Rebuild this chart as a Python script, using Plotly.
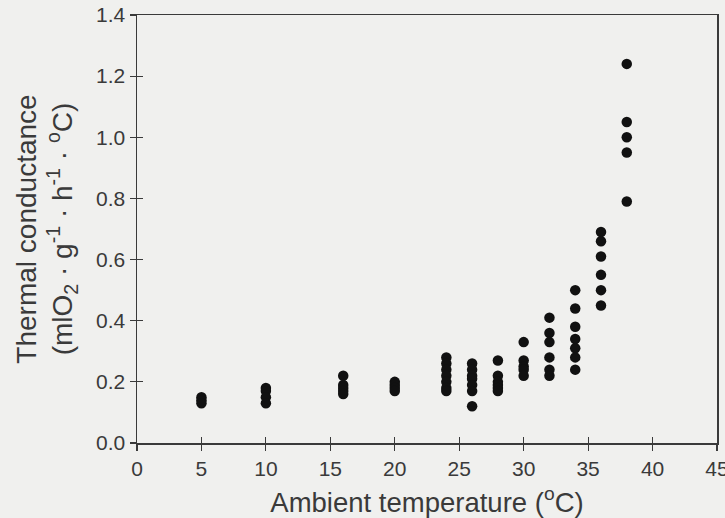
import plotly.graph_objects as go

# Ambient temperature (°C) groups and thermal conductance values
temps = [5, 10, 16, 20, 24, 26, 28, 30, 32, 34, 36, 38]
conductance = [
    [0.15, 0.14, 0.13],
    [0.18, 0.17, 0.15, 0.13],
    [0.22, 0.19, 0.18, 0.17, 0.16],
    [0.20, 0.19, 0.18, 0.17],
    [0.28, 0.26, 0.24, 0.22, 0.20, 0.18, 0.17],
    [0.26, 0.24, 0.22, 0.21, 0.19, 0.17, 0.12],
    [0.27, 0.22, 0.20, 0.19, 0.18, 0.17],
    [0.33, 0.27, 0.25, 0.24, 0.22],
    [0.41, 0.36, 0.33, 0.28, 0.24, 0.22],
    [0.50, 0.44, 0.38, 0.34, 0.31, 0.28, 0.24],
    [0.69, 0.66, 0.61, 0.55, 0.50, 0.45],
    [1.24, 1.05, 1.00, 0.95, 0.79],
]
x_ticks = [0, 5, 10, 15, 20, 25, 30, 35, 40, 45]
y_ticks = [0.0, 0.2, 0.4, 0.6, 0.8, 1.0, 1.2, 1.4]

xs, ys = [], []
for t, vals in zip(temps, conductance):
    for v in vals:
        xs.append(t)
        ys.append(v)

axis_color = "#3a3a3a"
font_color = "#3a3a3a"
bg = "#f0f0ee"
font_family = "Liberation Sans, Arial, sans-serif"

fig = go.Figure()
fig.add_trace(go.Scatter(
    x=xs, y=ys, mode="markers",
    marker=dict(size=10.5, color="#111111"),
    showlegend=False, hoverinfo="skip",
))
# invisible trace on secondary axes to get crossing ticks
fig.add_trace(go.Scatter(x=[None], y=[None], xaxis="x2", yaxis="y2",
                         showlegend=False, hoverinfo="skip"))

fig.update_layout(
    width=725, height=518,
    margin=dict(l=137, r=8, t=15, b=75, autoexpand=False),
    paper_bgcolor=bg, plot_bgcolor=bg,
    font=dict(family=font_family, color=font_color, size=21),
    xaxis=dict(
        range=[0, 45], tickvals=x_ticks, ticktext=[str(v) for v in x_ticks],
        showgrid=False, zeroline=False, showline=True, linecolor=axis_color,
        linewidth=1.5, mirror=True, ticks="outside", ticklen=6,
        tickcolor=axis_color, tickwidth=1.2, automargin=False,
        ticklabeloverflow="allow",
        tickfont=dict(size=21, color=font_color),
        title=dict(text="Ambient temperature (<sup>o</sup>C)",
                   font=dict(size=27.5, color=font_color)),
    ),
    yaxis=dict(
        range=[0, 1.4], tickvals=y_ticks, ticktext=[f"{v:.1f}" for v in y_ticks],
        showgrid=False, zeroline=False, showline=True, linecolor=axis_color,
        linewidth=1.5, mirror=True, ticks="outside", ticklen=6,
        tickcolor=axis_color, tickwidth=1.2, automargin=False,
        ticklabeloverflow="allow",
        tickfont=dict(size=21, color=font_color),
        title=dict(text="Thermal conductance<br>(mlO<sub>2</sub> · g<sup>-1</sup> · h<sup>-1</sup> · <sup>o</sup>C)",
                   font=dict(size=28, color=font_color)),
    ),
    xaxis2=dict(
        range=[0, 45], tickvals=x_ticks, showticklabels=False,
        overlaying="x", side="bottom", showgrid=False, zeroline=False,
        showline=False, ticks="inside", ticklen=6, tickcolor=axis_color,
        tickwidth=1.2, anchor="y2",
    ),
    yaxis2=dict(
        range=[0, 1.4], tickvals=y_ticks, showticklabels=False,
        overlaying="y", side="left", showgrid=False, zeroline=False,
        showline=False, ticks="inside", ticklen=6, tickcolor=axis_color,
        tickwidth=1.2, anchor="x2",
    ),
)

fig.write_html(
    "out.html",
    config={"displayModeBar": False, "staticPlot": True},
    post_script="document.body.style.margin='0';document.body.style.overflow='hidden';",
)
